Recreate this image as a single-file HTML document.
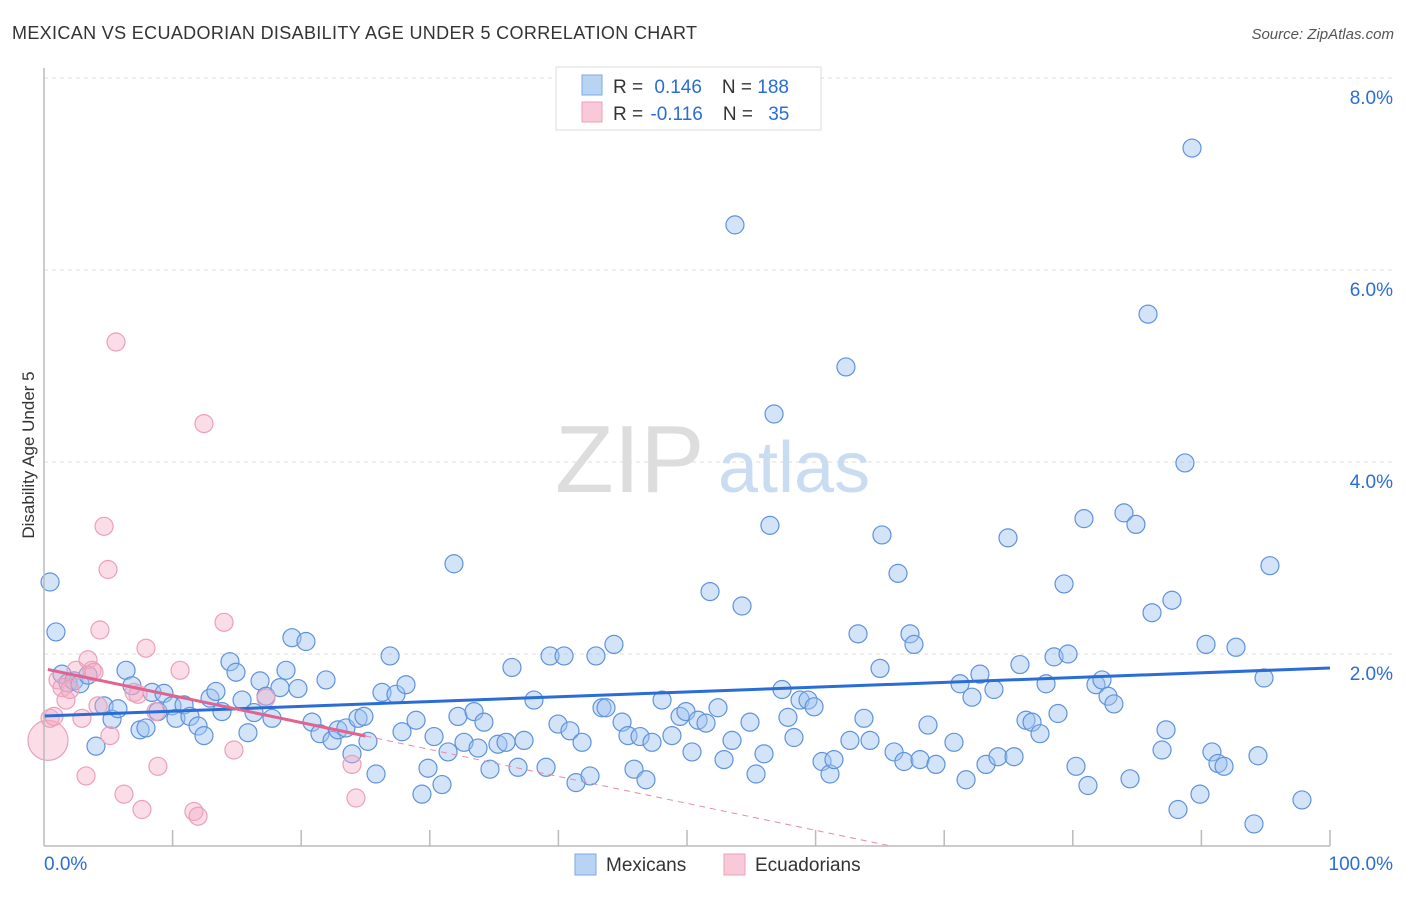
<!DOCTYPE html>
<html><head><meta charset="utf-8"><style>
body{margin:0;background:#fff;font-family:"Liberation Sans",sans-serif;}
svg text{font-family:"Liberation Sans",sans-serif;}
</style></head><body>
<svg id="chart" width="1406" height="892" viewBox="0 0 1406 892">
<text x="12" y="39" font-size="18" fill="#333" textLength="685">MEXICAN VS ECUADORIAN DISABILITY AGE UNDER 5 CORRELATION CHART</text>
<text x="1394" y="39" font-size="15" fill="#555" text-anchor="end" font-style="italic">Source: ZipAtlas.com</text>
<g id="grid"></g>
<text x="555" y="492" font-size="96" fill="#ddd" font-family="Liberation Serif">ZIP</text>
<text x="718" y="492" font-size="72" fill="#c9dcf2">atlas</text>
<g id="pts"></g>
<g id="trends"></g>
<g id="axes"></g>
<text transform="translate(34,455) rotate(-90)" font-size="17" fill="#333" text-anchor="middle">Disability Age Under 5</text>
<g>
<rect x="556" y="67" width="265" height="63" fill="#fff" stroke="#ddd"/>
<rect x="582" y="75" width="20" height="20" fill="#b9d3f5" stroke="#7fa8e0"/>
<rect x="582" y="102" width="20" height="20" fill="#f9c9d8" stroke="#eaa2bb"/>
<text x="613" y="93" font-size="19" fill="#333">R = <tspan fill="#2a6dd6" dx="6">0.146</tspan><tspan dx="20" fill="#333">N = </tspan><tspan fill="#2a6dd6">188</tspan></text>
<text x="613" y="120" font-size="19" fill="#333">R = <tspan fill="#2a6dd6" dx="2">-0.116</tspan><tspan dx="20" fill="#333">N = </tspan><tspan fill="#2a6dd6" dx="10">35</tspan></text>
</g>
<g>
<rect x="575" y="854" width="21" height="21" fill="#b9d3f5" stroke="#7fa8e0"/>
<text x="606" y="871" font-size="19" fill="#333">Mexicans</text>
<rect x="724" y="854" width="21" height="21" fill="#f9c9d8" stroke="#eaa2bb"/>
<text x="755" y="871" font-size="19" fill="#333">Ecuadorians</text>
</g>
</svg>
<script>
const yTicks=[2,4,6,8];
const yTickLabels=["2.0%","4.0%","6.0%","8.0%"];
const xLabels=["0.0%","100.0%"];
const mexX=[0.47,0.93,1.40,1.87,2.33,2.80,3.42,4.04,4.67,5.29,
5.75,6.38,6.84,7.47,7.93,8.40,8.86,9.33,9.95,10.26,
10.89,11.35,11.98,12.44,12.91,13.37,13.84,14.46,14.93,15.40,
15.86,16.33,16.80,17.26,17.73,18.35,18.82,19.28,19.75,20.37,
20.84,21.46,21.93,22.40,22.86,23.48,23.95,24.42,24.88,25.19,
25.82,26.28,26.91,27.37,27.84,28.15,28.93,29.39,29.86,30.33,
30.95,31.42,31.88,32.19,32.66,33.44,33.75,34.21,34.68,35.30,
35.93,36.39,36.86,37.33,38.10,39.04,39.35,39.97,40.44,40.90,
41.37,41.84,42.46,42.92,43.39,43.70,44.32,44.95,45.41,45.88,
46.35,46.81,47.28,48.06,48.83,49.46,49.92,50.39,50.86,51.48,
51.79,52.41,52.88,53.50,53.73,54.28,54.90,55.37,55.99,56.45,
56.77,57.39,57.85,58.32,58.79,59.41,59.88,60.50,61.12,61.43,
62.36,62.67,63.30,63.76,64.23,65.01,65.16,66.10,66.41,66.87,
67.34,67.65,68.12,68.74,69.36,70.76,71.23,71.70,72.16,72.78,
73.25,73.87,74.18,74.96,75.43,75.89,76.36,76.83,77.45,77.92,
78.54,78.85,79.32,79.63,80.25,80.87,81.18,81.80,82.27,82.74,
83.20,83.98,84.45,84.91,85.85,86.16,86.94,87.25,87.71,88.18,
88.72,89.27,89.89,90.36,90.82,91.29,91.76,92.69,94.09,94.40,
94.87,95.33,97.82];
const mexY=[2.75,2.23,1.79,1.70,1.72,1.69,1.78,1.04,1.46,1.32,
1.43,1.83,1.67,1.21,1.23,1.60,1.40,1.59,1.46,1.33,
1.47,1.35,1.25,1.15,1.54,1.61,1.40,1.92,1.81,1.52,
1.18,1.39,1.72,1.56,1.33,1.65,1.83,2.17,1.64,2.13,
1.29,1.17,1.73,1.10,1.21,1.23,0.96,1.33,1.35,1.09,
0.75,1.60,1.98,1.58,1.19,1.68,1.31,0.54,0.81,1.14,
0.64,0.98,2.94,1.35,1.08,1.40,1.02,1.29,0.80,1.06,
1.08,1.86,0.82,1.10,1.52,0.82,1.98,1.27,1.98,1.20,
0.66,1.08,0.73,1.98,1.44,1.44,2.10,1.29,1.15,0.80,
1.14,0.69,1.08,1.52,1.15,1.35,1.40,0.98,1.31,1.28,
2.65,1.44,0.90,1.10,6.47,2.50,1.29,0.75,0.96,3.34,
4.50,1.63,1.34,1.13,1.52,1.52,1.45,0.88,0.75,0.90,
4.99,1.10,2.21,1.33,1.10,1.85,3.24,0.98,2.84,0.88,
2.21,2.10,0.90,1.26,0.85,1.08,1.69,0.69,1.55,1.79,
0.85,1.63,0.93,3.21,0.93,1.89,1.31,1.29,1.17,1.69,
1.97,1.38,2.73,2.00,0.83,3.41,0.63,1.68,1.73,1.56,
1.48,3.47,0.70,3.35,5.54,2.43,1.00,1.21,2.56,0.38,
3.99,7.27,0.54,2.10,0.98,0.86,0.83,2.07,0.23,0.94,
1.75,2.92,0.48];
const ecuX=[0.31,0.47,0.78,1.09,1.40,1.71,2.02,2.49,2.95,3.27,3.42,3.73,3.89,4.20,4.35,4.67,4.98,5.13,5.60,6.22,7.00,7.31,7.62,7.93,8.71,8.86,10.58,11.66,11.98,12.44,14.00,14.77,17.26,23.95,24.26];
const ecuY=[1.10,1.33,1.35,1.73,1.65,1.52,1.63,1.83,1.33,0.73,1.94,1.83,1.81,1.46,2.25,3.33,2.88,1.15,5.25,0.54,1.60,1.58,0.38,2.06,1.40,0.83,1.83,0.36,0.31,4.40,2.33,1.00,1.54,0.85,0.50];
const ecuR=[20,9,9,9,9,9,9,9,9,9,9,9,9,9,9,9,9,9,9,9,9,9,9,9,9,9,9,9,9,9,9,9,9,9,9];
const X0=44,X1=1330,Y0=846;
function sx(v){return X0+(X1-X0)*v/100;}
function sy(v){return Y0-96*v;}
const NS="http://www.w3.org/2000/svg";
function mk(tag,attrs,parent){const e=document.createElementNS(NS,tag);for(const k in attrs)e.setAttribute(k,attrs[k]);parent.appendChild(e);return e;}
const grid=document.getElementById('grid');
yTicks.forEach((t,i)=>{
 const l=mk('line',{x1:X0,x2:1394,y1:sy(t),y2:sy(t),stroke:'#ddd','stroke-dasharray':'4 4'},grid);
 
 
 const tx=mk('text',{x:1393,y:sy(t)+26,'font-size':19,fill:'#2a6dd6','text-anchor':'end'},grid);
 tx.textContent=yTickLabels[i];
 
 
});
const pts=document.getElementById('pts');
const n=Math.min(mexX.length,mexY.length);
for(let i=0;i<n;i++){
 const c=mk('circle',{cx:sx(mexX[i]),cy:sy(mexY[i]),r:9,fill:'rgba(160,196,240,0.45)',stroke:'#5e93dd','stroke-width':1.2},pts);
 
 
}
ecuX.forEach((v,i)=>{
 const c=mk('circle',{cx:sx(v),cy:sy(ecuY[i]),r:ecuR[i],fill:'rgba(245,170,195,0.4)',stroke:'#eba0b8','stroke-width':1.2},pts);
 
 
});
function fit(xs,ys){const n=Math.min(xs.length,ys.length);let mx=0,my=0;for(let i=0;i<n;i++){mx+=xs[i];my+=ys[i];}mx/=n;my/=n;let a=0,b=0;for(let i=0;i<n;i++){a+=(xs[i]-mx)*(ys[i]-my);b+=(xs[i]-mx)**2;}const s=a/b;return[s,my-s*mx];}
const tr=document.getElementById('trends');
const mf=fit(mexX,mexY);
let l1=mk('line',{x1:sx(0),y1:sy(mf[1]),x2:sx(100),y2:sy(mf[1]+mf[0]*100),stroke:'#2a6dd6','stroke-width':3},tr);


const ef=fit(ecuX,ecuY);
let l2=mk('line',{x1:sx(0.3),y1:sy(ef[1]+ef[0]*0.3),x2:sx(25),y2:sy(ef[1]+ef[0]*25),stroke:'#e0648f','stroke-width':3},tr);


const xe=Math.min(100,-ef[1]/ef[0]);
let l3=mk('line',{x1:sx(25),y1:sy(ef[1]+ef[0]*25),x2:sx(xe),y2:sy(ef[1]+ef[0]*xe),stroke:'#e58aa9','stroke-width':1,'stroke-dasharray':'6 5'},tr);


const ax=document.getElementById('axes');
mk('line',{x1:X0,x2:X0,y1:68,y2:Y0,stroke:'#bbb','stroke-width':1.5},ax);
mk('line',{x1:X0,x2:X1,y1:Y0,y2:Y0,stroke:'#bbb','stroke-width':1.5},ax);
for(let k=1;k<=10;k++){
 const t=mk('line',{x1:sx(k*10),x2:sx(k*10),y1:Y0-16,y2:Y0,stroke:'#bbb','stroke-width':1.5},ax);
 
 
}
const xl0=mk('text',{x:44,y:870,'font-size':19,fill:'#2a6dd6'},ax);xl0.textContent=xLabels[0];


const xl1=mk('text',{x:1393,y:870,'font-size':19,fill:'#2a6dd6','text-anchor':'end'},ax);xl1.textContent=xLabels[1];


</script>
</body></html>
